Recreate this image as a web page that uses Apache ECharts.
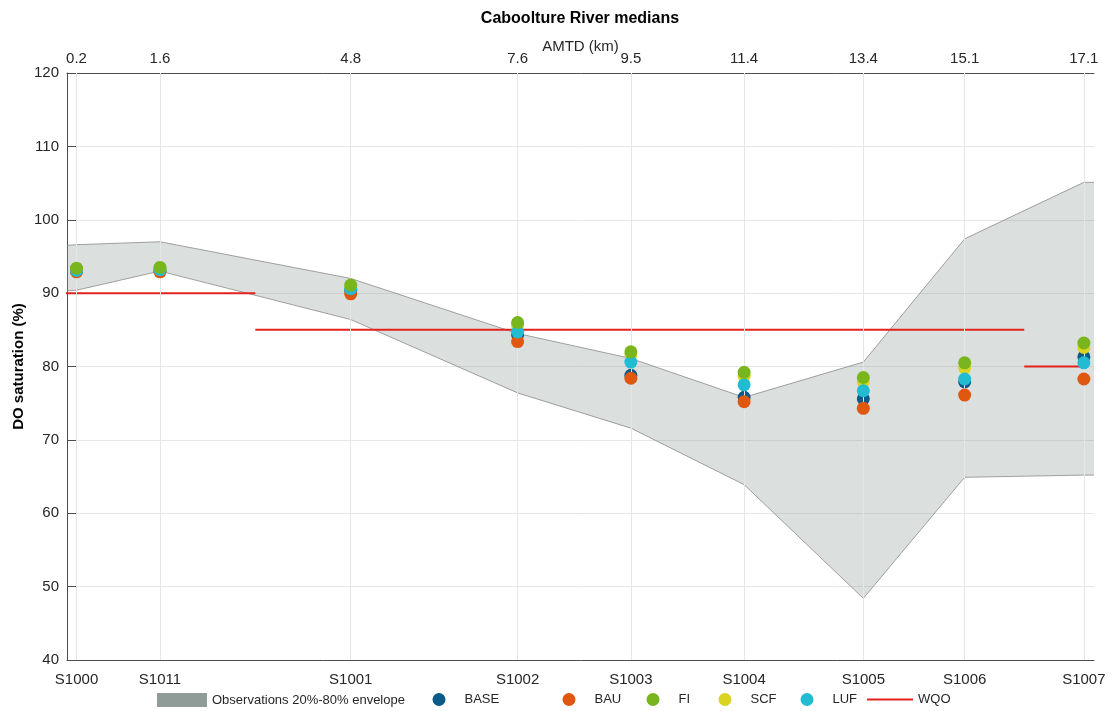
<!DOCTYPE html>
<html>
<head>
<meta charset="utf-8">
<script src="https://cdn.jsdelivr.net/npm/echarts@6/dist/echarts.min.js"></script>
<style>
html,body{margin:0;padding:0;background:#fff;}
#chart{width:1115px;height:711px;}
</style>
</head>
<body>
<div id="chart"></div>
<script>
// ---- data ----
const sites = ['S1000','S1011','S1001','S1002','S1003','S1004','S1005','S1006','S1007'];
const amtd  = [0.2, 1.6, 4.8, 7.6, 9.5, 11.4, 13.4, 15.1, 17.1];

const base = [93.1, 93.1, 90.4, 84.3, 78.8, 75.8, 75.6, 77.9, 81.3];
const bau  = [92.9, 92.9, 89.9, 83.4, 78.4, 75.2, 74.3, 76.1, 78.3];
const fi   = [93.4, 93.5, 91.1, 86.0, 82.0, 79.2, 78.5, 80.5, 83.2];
const scf  = [93.3, 93.3, 90.8, 85.6, 81.6, 78.7, 77.9, 79.8, 82.6];
const luf  = [93.1, 93.2, 90.6, 84.7, 80.6, 77.5, 76.7, 78.3, 80.5];

// envelope (observations 20%-80%), extending to axis edges
const envX     = [0.0, 0.2, 1.6, 4.8, 7.6, 9.5, 11.4, 13.4, 15.1, 17.1, 17.3];
const envUpper = [96.5, 96.6, 97.0, 92.0, 84.5, 81.1, 75.8, 80.6, 97.4, 105.1, 105.1];
const envLower = [90.3, 90.4, 93.0, 86.4, 76.4, 71.6, 63.9, 48.4, 64.9, 65.2, 65.2];

// water quality objective segments
const wqoFrom  = [0.0, 3.2, 16.1];
const wqoTo    = [3.2, 16.1, 17.1];
const wqoLevel = [90, 85, 80];

const yTicks = [40, 50, 60, 70, 80, 90, 100, 110, 120];

// ---- chart ----
const FONT = '"Liberation Sans", Arial, Helvetica, sans-serif';
const TXT = '#262626';
const AX = '#4d4d4d';
const GRIDC = '#e6e6e6';
const XMIN = 0.04, XMAX = 17.27;
const RED = '#e3221d';

const colors = {BASE:'#0b5a88', BAU:'#e0570f', FI:'#79b51c', SCF:'#d8d41f', LUF:'#21bcd2'};

function pts(ys){ return amtd.map((x,i)=>[x, ys[i]]); }

const series = [];
// vertical grid lines (below everything)
series.push({
  type:'line', name:'_grid', data:[], z:0, silent:true,
  markLine:{silent:true, symbol:['none','none'], label:{show:false},
    lineStyle:{color:GRIDC, width:1, type:'solid'},
    emphasis:{disabled:true},
    data: amtd.map(v=>({xAxis:v}))}
});
// envelope polygon
series.push({
  type:'custom', name:'Observations 20%-80% envelope', z:1, silent:true,
  itemStyle:{color:'#8f9c97'},
  data: envX.map((x,i)=>[x, envLower[i], envUpper[i]]),
  encode:{x:0, y:[1,2]},
  renderItem:function(params, api){
    if (params.dataIndex !== 1) return null;
    const up = [], lo = [];
    for (let i = 0; i < envX.length; i++){
      up.push(api.coord([envX[i], envUpper[i]]));
      lo.push(api.coord([envX[i], envLower[i]]));
    }
    const poly = up.concat(lo.slice().reverse());
    const cs = params.coordSys;
    return {
      type:'group',
      clipPath:{type:'rect', shape:{x:cs.x, y:cs.y, width:cs.width, height:cs.height}},
      children:[
        {type:'polygon', shape:{points:poly}, style:{fill:'rgba(144,156,152,0.32)', stroke:null}},
        {type:'polyline', shape:{points:up}, style:{fill:null, stroke:'#8a8a8a', lineWidth:0.8}},
        {type:'polyline', shape:{points:lo}, style:{fill:null, stroke:'#8a8a8a', lineWidth:0.8}}
      ]
    };
  }
});
// WQO
wqoFrom.forEach((f,i)=>{
  series.push({
    type:'line', name:'WQO', data:[[f, wqoLevel[i]],[wqoTo[i], wqoLevel[i]]],
    symbol:'none', color:RED, lineStyle:{color:RED, width:2}, z:3, silent:true
  });
});
// scatter
const scat = [['BASE',base,4],['BAU',bau,5],['SCF',scf,6],['LUF',luf,7],['FI',fi,8]];
scat.forEach(([n, ys, z])=>{
  series.push({type:'scatter', name:n, data:pts(ys), symbol:'circle', symbolSize:13,
    itemStyle:{color:colors[n], opacity:1}, z:z, silent:true});
});

const legendCommon = {orient:'horizontal', top:693, padding:0, itemGap:0, selectedMode:false};
function ts(padLeft){ return {fontFamily:FONT, fontSize:13, color:TXT, padding:[0,0,0,padLeft]}; }
const legends = [
  Object.assign({}, legendCommon, {left:157, itemWidth:50, itemHeight:14, textStyle:ts(0),
    data:[{name:'Observations 20%-80% envelope', icon:'rect', itemStyle:{color:'#8f9c97', borderWidth:0, opacity:1}}]}),
  Object.assign({}, legendCommon, {left:432.5, itemWidth:13, itemHeight:13, textStyle:ts(14), data:[{name:'BASE', icon:'circle'}]}),
  Object.assign({}, legendCommon, {left:562.5, itemWidth:13, itemHeight:13, textStyle:ts(14), data:[{name:'BAU', icon:'circle'}]}),
  Object.assign({}, legendCommon, {left:646.5, itemWidth:13, itemHeight:13, textStyle:ts(14), data:[{name:'FI', icon:'circle'}]}),
  Object.assign({}, legendCommon, {left:718.5, itemWidth:13, itemHeight:13, textStyle:ts(14), data:[{name:'SCF', icon:'circle'}]}),
  Object.assign({}, legendCommon, {left:800.5, itemWidth:13, itemHeight:13, textStyle:ts(14), data:[{name:'LUF', icon:'circle'}]}),
  Object.assign({}, legendCommon, {left:867, top:693, itemWidth:46, itemHeight:2, textStyle:ts(0),
    data:[{name:'WQO', icon:'rect', itemStyle:{color:RED, borderWidth:0, opacity:1}}]})
];

const option = {
  animation:false,
  backgroundColor:'#ffffff',
  title:{text:'Caboolture River medians', left:580, textAlign:'center', top:11, padding:0,
    textStyle:{fontFamily:FONT, fontSize:16, fontWeight:'bold', color:'#000'}},
  legend: legends,
  grid:{left:67, right:21, top:73, bottom:51, containLabel:false, outerBoundsMode:'none'},
  xAxis:[
    {type:'value', position:'bottom', min:XMIN, max:XMAX,
      axisLine:{show:true, onZero:false, lineStyle:{color:AX, width:1}},
      axisTick:{show:true, inside:true, length:9, customValues:amtd, lineStyle:{color:AX}},
      axisLabel:{show:true, customValues:amtd, margin:12, fontFamily:FONT, fontSize:15, color:TXT,
        formatter:(v)=>{ const i = amtd.findIndex(a=>Math.abs(a-v)<1e-6); return i>=0?sites[i]:''; }},
      splitLine:{show:false}},
    {type:'value', position:'top', min:XMIN, max:XMAX,
      name:'AMTD (km)', nameLocation:'middle', nameGap:19, nameMoveOverlap:false,
      nameTextStyle:{fontFamily:FONT, fontSize:15, color:TXT},
      axisLine:{show:true, onZero:false, lineStyle:{color:AX, width:1}},
      axisTick:{show:true, inside:true, length:9, customValues:amtd, lineStyle:{color:AX}},
      axisLabel:{show:true, customValues:amtd, margin:7, fontFamily:FONT, fontSize:15, color:TXT,
        formatter:(v)=>v.toFixed(1)},
      splitLine:{show:false}}
  ],
  yAxis:{type:'value', min:yTicks[0], max:yTicks[yTicks.length-1], interval:10,
    name:'DO saturation (%)', nameLocation:'middle', nameGap:41, nameMoveOverlap:false,
    nameTextStyle:{fontFamily:FONT, fontSize:15, fontWeight:'bold', color:'#000'},
    axisLine:{show:true, onZero:false, lineStyle:{color:AX, width:1}},
    axisTick:{show:true, inside:true, length:9, lineStyle:{color:AX}},
    axisLabel:{margin:8, fontFamily:FONT, fontSize:15, color:TXT},
    splitLine:{show:true, lineStyle:{color:GRIDC, width:1}}},
  series: series
};

const chart = echarts.init(document.getElementById('chart'), null, {renderer:'canvas'});
chart.setOption(option);
</script>
</body>
</html>
